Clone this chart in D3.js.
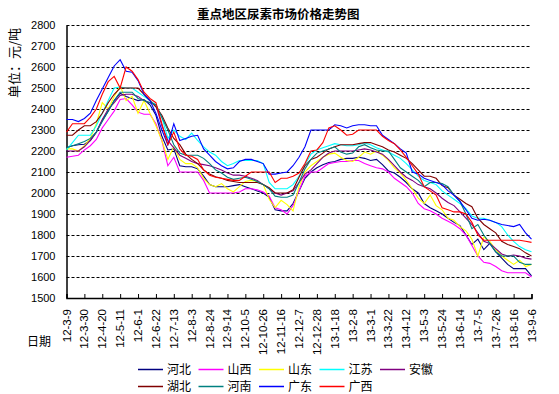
<!DOCTYPE html>
<html>
<head>
<meta charset="utf-8">
<script src="https://cdn.jsdelivr.net/npm/d3@7"></script>
<style>
  body { margin: 0; background: #fff; }
  svg { display: block; font-family: "Liberation Sans", Arial, sans-serif; }
  .cjk { font-family: "Noto Sans CJK SC", sans-serif; }
</style>
</head>
<body>
<svg id="chart"></svg>
<script>
// ---- data ----
var seriesNames = ["河北", "山西", "山东", "江苏", "安徽", "湖北", "河南", "广东", "广西"];
var seriesColors = ["#000080", "#ff00ff", "#ffff00", "#00ffff", "#800080", "#800000", "#008080", "#0000ff", "#ff0000"];

var hebei = [2215,2225,2230,2232,2250,2290,2345,2390,2440,2475,2460,2450,2440,2445,2420,2370,2270,2205,2210,2130,
  2125,2125,2115,2080,2040,2030,2030,2030,2035,2040,2030,2020,2010,2000,1980,1920,1915,1915,1950,2010,
  2070,2100,2120,2135,2145,2150,2160,2165,2165,2170,2165,2155,2160,2135,2105,2095,2075,2050,2020,2000,
  1950,1930,1915,1900,1880,1860,1845,1800,1755,1780,1730,1760,1720,1690,1660,1640,1640,1640,1605];
var shanxi = [2170,2175,2180,2205,2225,2255,2310,2350,2390,2445,2450,2420,2385,2375,2375,2330,2250,2130,2170,2100,
  2100,2100,2100,2060,2000,2000,2000,2000,2000,2005,2020,2020,2015,2005,1985,1930,1920,1900,1940,2010,
  2080,2100,2100,2120,2140,2145,2150,2150,2155,2155,2140,2130,2120,2115,2100,2070,2050,2030,2000,1950,
  1925,1915,1900,1880,1865,1850,1830,1800,1750,1700,1670,1665,1650,1630,1620,1620,1620,1620,1600];
var shandong = [2210,2210,2200,2225,2260,2330,2430,2400,2460,2510,2440,2460,2380,2440,2380,2320,2250,2160,2220,2160,
  2140,2140,2120,2070,2040,2030,2045,2020,2005,2030,2055,2060,2055,2040,1970,1930,1965,1945,1915,2030,
  2100,2130,2150,2170,2185,2190,2170,2155,2150,2170,2195,2185,2200,2180,2155,2120,2095,2060,2020,1975,
  1950,1990,1940,1920,1880,1870,1840,1820,1780,1700,1790,1770,1730,1700,1680,1660,1680,1650,1660];
var jiangsu = [2205,2240,2275,2275,2275,2320,2380,2440,2500,2505,2500,2500,2480,2460,2440,2420,2360,2260,2300,2270,
  2255,2285,2250,2220,2195,2180,2150,2130,2140,2155,2155,2155,2155,2140,2050,2020,2020,2020,2040,2080,
  2135,2185,2205,2215,2225,2235,2230,2225,2225,2230,2238,2230,2215,2205,2195,2180,2165,2140,2110,2080,
  2060,2050,2040,2010,1990,1970,1950,1925,1890,1880,1880,1870,1860,1840,1800,1770,1745,1730,1720];
var anhui = [2200,2200,2200,2220,2250,2290,2350,2400,2430,2465,2470,2470,2460,2440,2430,2420,2320,2250,2215,2180,
  2165,2150,2140,2135,2130,2120,2110,2095,2085,2085,2080,2070,2060,2040,2020,2000,1990,2000,2010,2050,
  2090,2110,2140,2170,2190,2200,2200,2200,2200,2205,2210,2205,2195,2185,2160,2130,2100,2075,2060,2040,
  2030,2020,2000,1975,1955,1940,1910,1880,1850,1810,1770,1760,1735,1710,1700,1705,1700,1690,1685];
var hubei = [2275,2275,2300,2320,2320,2340,2380,2430,2470,2500,2500,2500,2500,2470,2440,2410,2370,2310,2260,2230,
  2185,2160,2140,2110,2090,2077,2070,2060,2055,2050,2050,2050,2050,2040,2025,2000,2000,2000,2015,2075,
  2130,2160,2170,2190,2210,2220,2230,2230,2230,2235,2240,2240,2230,2220,2205,2195,2180,2165,2140,2110,
  2080,2080,2070,2035,2025,1990,1970,1950,1935,1880,1850,1830,1810,1770,1755,1745,1735,1715,1700];
var henan = [2215,2225,2235,2245,2260,2290,2340,2390,2440,2480,2480,2480,2450,2440,2430,2420,2360,2300,2230,2190,
  2180,2180,2180,2165,2140,2110,2095,2075,2065,2070,2075,2065,2055,2040,2020,1985,1980,1980,1990,2050,
  2115,2160,2190,2200,2210,2220,2195,2185,2190,2220,2230,2215,2205,2200,2200,2160,2120,2100,2080,2060,
  2030,2050,2050,2045,2030,1990,1960,1900,1830,1850,1800,1760,1720,1700,1700,1700,1670,1660,1660];
var guangdong = [2350,2350,2340,2355,2380,2440,2495,2550,2605,2635,2580,2575,2535,2470,2440,2380,2300,2230,2330,2250,
  2260,2270,2275,2210,2180,2150,2130,2115,2120,2150,2160,2160,2150,2140,2090,2090,2095,2100,2130,2170,
  2220,2300,2300,2300,2300,2325,2320,2310,2320,2325,2325,2320,2320,2275,2255,2235,2210,2190,2100,2090,
  2070,2060,2050,2040,2010,1990,1960,1920,1880,1870,1875,1870,1860,1850,1845,1840,1850,1810,1780];
var guangxi = [2290,2330,2330,2330,2360,2400,2470,2530,2555,2500,2600,2580,2540,2480,2450,2430,2330,2230,2290,2210,
  2180,2175,2160,2110,2085,2075,2070,2065,2060,2060,2080,2100,2100,2100,2100,2050,2070,2070,2080,2095,
  2140,2200,2205,2240,2310,2320,2300,2275,2280,2300,2300,2300,2300,2270,2250,2235,2205,2170,2130,2090,
  2030,2010,1990,1930,1920,1910,1910,1900,1860,1800,1775,1775,1775,1775,1775,1775,1775,1770,1765];

var seriesValues = [hebei, shanxi, shandong, jiangsu, anhui, hubei, henan, guangdong, guangxi];

var yTicks = [1500, 1600, 1700, 1800, 1900, 2000, 2100, 2200, 2300, 2400, 2500, 2600, 2700, 2800];
var xTickLabels = ["12-3-9", "12-3-30", "12-4-20", "12-5-11", "12-6-1", "12-6-22", "12-7-13", "12-8-3",
  "12-8-24", "12-9-14", "12-10-5", "12-10-26", "12-11-16", "12-12-7", "12-12-28", "13-1-18", "13-2-8",
  "13-3-1", "13-3-22", "13-4-12", "13-5-3", "13-5-24", "13-6-14", "13-7-5", "13-7-26", "13-8-16", "13-9-6"];

// weekly categories, 12-3-9 .. 13-9-6
var startDate = new Date(2012, 2, 9);
var fmt = d3.timeFormat("%y-%-m-%-d");
var categories = d3.range(hebei.length).map(function(i) {
    return fmt(d3.timeDay.offset(startDate, 7 * i));
});

// ---- layout ----
var W = 559, H = 394;
var svg = d3.select("#chart").attr("width", W).attr("height", H);

var x = d3.scalePoint().domain(categories).range([66.5, 531.5]);
var y = d3.scaleLinear().domain([1500, 2800]).range([298, 25]);

// title
svg.append("text")
    .attr("class", "cjk")
    .attr("x", 197).attr("y", 19)
    .attr("font-size", 12.5).attr("font-weight", "bold")
    .text("重点地区尿素市场价格走势图");

// gridlines
svg.append("g")
    .selectAll("line")
    .data(yTicks.filter(function(d) { return d > 1500; }))
    .join("line")
    .attr("x1", 66.5).attr("x2", 531.5)
    .attr("y1", function(d) { return Math.round(y(d)) + 0.5; })
    .attr("y2", function(d) { return Math.round(y(d)) + 0.5; })
    .attr("stroke", "#000")
    .attr("stroke-dasharray", "3,2");

// y axis
var yAxis = svg.append("g")
    .attr("transform", "translate(66.5,0)")
    .call(d3.axisLeft(y).tickValues(yTicks).tickSize(0).tickPadding(11).tickFormat(d3.format("d")));
yAxis.select(".domain").attr("stroke", "#000").attr("stroke-width", 1.5);
yAxis.selectAll("text").attr("font-size", 11).attr("fill", "#000")
    .attr("font-family", "Liberation Sans, Arial, sans-serif");

// x axis
var xAxis = svg.append("g")
    .attr("transform", "translate(0,298)")
    .call(d3.axisBottom(x).tickValues(xTickLabels).tickSize(-4).tickFormat(""));
xAxis.select(".domain").attr("stroke", "#000").attr("stroke-width", 1.5);
xAxis.selectAll(".tick line").attr("stroke", "#000");

svg.append("g")
    .selectAll("text")
    .data(xTickLabels)
    .join("text")
    .attr("transform", function(d) { return "translate(" + (x(d) + 4) + ",309) rotate(-90)"; })
    .attr("text-anchor", "end")
    .attr("font-size", 11.5)
    .text(function(d) { return d; });

// axis titles
svg.append("text")
    .attr("class", "cjk")
    .attr("transform", "translate(19,63) rotate(-90)")
    .attr("text-anchor", "middle")
    .attr("font-size", 13)
    .text("单位：元/吨");

svg.append("text")
    .attr("class", "cjk")
    .attr("x", 27).attr("y", 346)
    .attr("font-size", 12)
    .text("日期");

// series lines
var line = d3.line()
    .x(function(d, i) { return x(categories[i]); })
    .y(function(d) { return y(d); });

svg.append("g")
    .selectAll("path")
    .data(seriesValues)
    .join("path")
    .attr("fill", "none")
    .attr("stroke", function(d, i) { return seriesColors[i]; })
    .attr("stroke-width", 1.1)
    .attr("d", line);

// legend
var legend = svg.append("g")
    .selectAll("g")
    .data(seriesNames)
    .join("g")
    .attr("transform", function(d, i) {
        var col = i < 5 ? i : i - 5;
        var row = i < 5 ? 0 : 1;
        return "translate(" + (138 + col * 60.5) + "," + (369 + row * 17) + ")";
    });
legend.append("line")
    .attr("x1", 0).attr("x2", 25).attr("y1", 0.5).attr("y2", 0.5)
    .attr("stroke", function(d, i) { return seriesColors[i]; })
    .attr("stroke-width", 1.5);
legend.append("text")
    .attr("class", "cjk")
    .attr("x", 29).attr("y", 4.5)
    .attr("font-size", 12)
    .text(function(d) { return d; });
</script>
</body>
</html>
